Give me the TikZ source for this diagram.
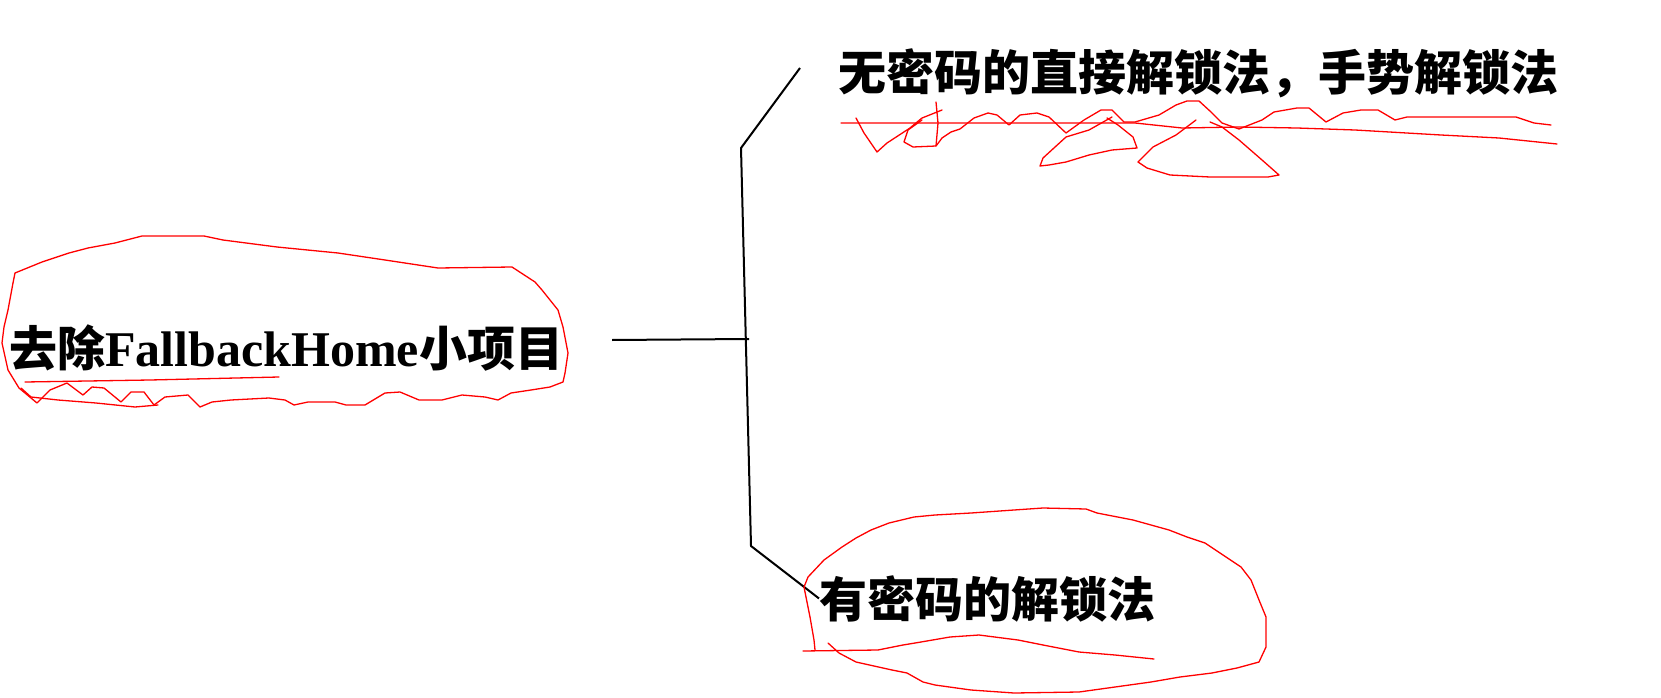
\documentclass[tikz,border=0pt]{standalone}
\usepackage{fontspec}
\setmainfont{Liberation Serif}
\newfontfamily\cjk{Noto Sans CJK SC}

\begin{document}
\begin{tikzpicture}[x=1pt,y=-1pt,
  branch/.style={line width=2pt},
  scrawl/.style={red,line width=1.3pt,line join=round,line cap=round},
  leaf/.style={inner sep=0pt,anchor=base west,font=\cjk\bfseries\fontsize{48}{58}\selectfont}]
\useasboundingbox (0,0) rectangle (1661,698);
\node[leaf] (root) at (9,366) {去除{\rmfamily\bfseries\fontsize{50}{60}\selectfont FallbackHome}小项目};
\node[leaf] (high) at (838,91) {无密码的直接解锁法，手势解锁法};
\node[leaf] (low) at (819,617) {有密码的解锁法};
\coordinate (stem) at (612,340);
\coordinate (hub) at (749,339);
\coordinate (fork top) at (741,148);
\coordinate (fork bot) at (751,546);
\coordinate (tip top) at (800,68);
\draw[branch] (stem) -- (hub);
\draw[branch] (tip top) -- (fork top) -- (fork bot) -- (low.west);
% red marks round the root
\draw[scrawl] (15,273) -- (42,262) -- (69,253) -- (88,248) -- (115,243) -- (142,236) -- (204,236) -- (223,240) -- (277,247) -- (338,253) -- (385,260) -- (438,268) -- (512,267) -- (535,282) -- (542,290) -- (558,310) -- (563,327) -- (568,353) -- (565,373) -- (563,382) -- (550,387) -- (531,390) -- (511,393) -- (498,400) -- (485,397) -- (462,395) -- (442,400) -- (419,400) -- (400,392) -- (385,393) -- (365,405) -- (346,405) -- (335,402) -- (308,402) -- (294,405) -- (285,400) -- (269,398) -- (231,400) -- (212,402) -- (200,407) -- (188,395) -- (165,397) -- (154,405) -- (144,392) -- (131,392) -- (121,402) -- (104,388) -- (92,387) -- (83,395) -- (67,383) -- (50,390) -- (37,403) -- (19,388) -- (8,370) -- (2,343) -- (4,327) -- (8,310) -- (13,283) -- cycle;
\draw[scrawl] (21,388) -- (31,397) -- (58,400) -- (96,403) -- (135,407) -- (158,405);
\draw[scrawl] (25,382) -- (150,380) -- (279,377);
% red marks under the upper leaf
\draw[scrawl] (841,123) -- (1135,123) -- (1182,128) -- (1239,127) -- (1297,128) -- (1355,130) -- (1441,135) -- (1499,138) -- (1557,144);
\draw[scrawl] (856,118) -- (864,133) -- (877,152) -- (887,143) -- (910,128) -- (922,118) -- (942,110);
\draw[scrawl] (936,102) -- (938,123) -- (936,146) -- (913,147) -- (904,142) -- (908,130) -- (922,120);
\draw[scrawl] (936,146) -- (942,138) -- (951,132) -- (960,129) -- (974,118) -- (988,113) -- (997,115) -- (1009,125) -- (1020,115) -- (1037,113) -- (1049,117) -- (1066,133) -- (1084,120) -- (1101,110) -- (1112,110) -- (1124,122) -- (1135,122) -- (1159,115) -- (1176,105) -- (1187,101) -- (1199,101) -- (1211,112) -- (1222,123) -- (1239,129) -- (1262,120) -- (1274,112) -- (1297,108) -- (1309,108) -- (1326,122) -- (1343,113) -- (1361,110) -- (1378,110) -- (1395,120) -- (1407,117) -- (1424,117) -- (1516,117) -- (1534,123) -- (1551,125);
\draw[scrawl] (1112,117) -- (1089,130) -- (1066,137) -- (1043,158) -- (1040,166) -- (1049,165) -- (1066,162) -- (1089,155) -- (1112,150) -- (1137,148) -- (1133,137) -- (1118,125) -- (1107,118);
\draw[scrawl] (1196,120) -- (1176,135) -- (1153,147) -- (1138,162) -- (1147,168) -- (1170,175) -- (1210,177) -- (1268,177) -- (1279,175) -- (1262,160) -- (1239,140) -- (1222,127) -- (1210,122);
% red marks round the lower leaf
\draw[scrawl] (815,650) -- (814,640) -- (810,617) -- (804,587) -- (808,577) -- (824,560) -- (842,547) -- (856,538) -- (871,530) -- (889,523) -- (914,517) -- (935,515) -- (971,513) -- (1014,510) -- (1043,508) -- (1086,509) -- (1097,513) -- (1133,520) -- (1169,530) -- (1187,537) -- (1205,543) -- (1223,555) -- (1241,567) -- (1251,580) -- (1259,600) -- (1266,617) -- (1266,647) -- (1259,662) -- (1237,668) -- (1212,673) -- (1180,677) -- (1151,682) -- (1115,687) -- (1079,692) -- (1014,693) -- (971,690) -- (935,685) -- (923,682) -- (907,673) -- (892,670) -- (856,662) -- (839,653) -- (828,643);
\draw[scrawl] (803,651) -- (878,650) -- (903,645) -- (921,642) -- (950,637) -- (979,635) -- (1018,640) -- (1043,645) -- (1079,652) -- (1115,655) -- (1154,659);
\end{tikzpicture}
\end{document}
